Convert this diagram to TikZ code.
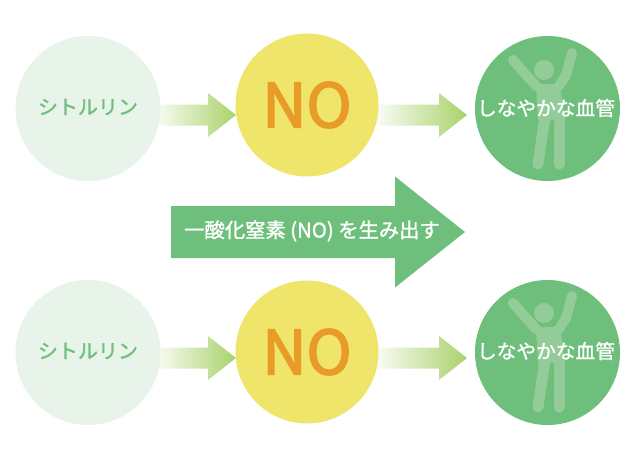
\documentclass[tikz,border=0pt]{standalone}
\usepackage{fontspec}
\setmainfont{Noto Sans CJK JP}
\newfontfamily\medfont[FakeBold=1.2]{Noto Sans CJK JP}
\newfontfamily\nofont[FakeBold=2.6]{Noto Sans CJK JP}
\usetikzlibrary{calc}
\definecolor{leafgreen}{HTML}{6EBF7B}
\definecolor{palegreen}{HTML}{E8F3E9}
\definecolor{figgreen}{HTML}{93CC98}
\definecolor{noyellow}{HTML}{F0E56B}
\definecolor{noorange}{HTML}{E89B27}
\definecolor{tipgreen}{HTML}{A9D26A}
% block arrow: {style}{from}{to}{half shaft}{half head}{head length}
\newcommand{\blockarrow}[6]{%
  \path[#1] (#2) ++(0,-#4) -- ($(#3)+(-#6,-#4)$) -- ($(#3)+(-#6,-#5)$) -- (#3)
    -- ($(#3)+(-#6,#5)$) -- ($(#3)+(-#6,#4)$) -- ($(#2)+(0,#4)$) -- cycle;}
\begin{document}
\begin{tikzpicture}[x=1pt,y=-1pt]
  \tikzstyle{source}=[circle,fill=palegreen,minimum size=145pt,inner sep=0pt]
  \tikzstyle{gas}=[circle,fill=noyellow,minimum size=143pt,inner sep=0pt]
  \tikzstyle{vessel}=[circle,fill=leafgreen,minimum size=145pt,inner sep=0pt]
  \tikzstyle{sourcetext}=[font=\fontsize{20}{20}\medfont,text=leafgreen]
  \tikzstyle{gastext}=[font=\fontsize{61}{61}\nofont,text=noorange]
  \tikzstyle{vesseltext}=[font=\fontsize{19.7}{20}\medfont,text=white]
  \tikzstyle{fade}=[left color=white,right color=tipgreen,shading angle=90]
  \tikzstyle{limb}=[draw=figgreen,line width=10pt,line cap=round,line join=round]
  \tikzset{person/.pic={
      \fill[figgreen] (0,-37) circle (10);
      \fill[figgreen] (-8,-23) -- (16,-23) -- (21,13) -- (-6,13) -- cycle;
      \draw[limb] (-31,-47) -- (-8,-21);
      \draw[limb] (28,-54) -- (22,-32) -- (15,-21);
      \draw[limb,line width=11pt] (1,10) -- (-6,57);
      \draw[limb,line width=11pt] (15,10) -- (15,57);
  }}
  \useasboundingbox (0,0) rectangle (640,450);

  \coordinate (a1) at (150,115);
  \coordinate (b1) at (236,115);
  \coordinate (c1) at (370,115);
  \coordinate (d1) at (467,115);
  \coordinate (a2) at (150,358);
  \coordinate (b2) at (236,358);
  \coordinate (c2) at (370,358);
  \coordinate (d2) at (467,358);
  \coordinate (m1) at (171,232);
  \coordinate (m2) at (465,232);

  \blockarrow{fade}{a1}{b1}{10.5}{22}{28}
  \blockarrow{fade}{c1}{d1}{10.5}{22}{28}
  \blockarrow{fade}{a2}{b2}{10.5}{22}{28}
  \blockarrow{fade}{c2}{d2}{10.5}{22}{28}
  \blockarrow{fill=leafgreen}{m1}{m2}{26}{55.5}{70}

  \node [source] (s1) at (88,108.5) {};
  \node [gas] (g1) at (307,105) {};
  \node [vessel] (v1) at (547.5,108.5) {};
  \node [source] (s2) at (88,352.5) {};
  \node [gas] (g2) at (307,352) {};
  \node [vessel] (v2) at (547.5,352.5) {};

  \pic at (544,107) {person};
  \pic at (544,350) {person};

  \node [sourcetext] (st1) at (88,107) {シトルリン};
  \node [sourcetext] (st2) at (88,351) {シトルリン};
  \node [gastext] (gt1) at (307,105) {NO};
  \node [gastext] (gt2) at (307,352) {NO};
  \node [vesseltext] (vt1) at (546,108) {しなやかな血管};
  \node [vesseltext] (vt2) at (546,351) {しなやかな血管};
  \node [font=\fontsize{20.3}{20}\medfont,text=white] (mt) at (312,231) {一酸化窒素 (NO) を生み出す};
\end{tikzpicture}
\end{document}
